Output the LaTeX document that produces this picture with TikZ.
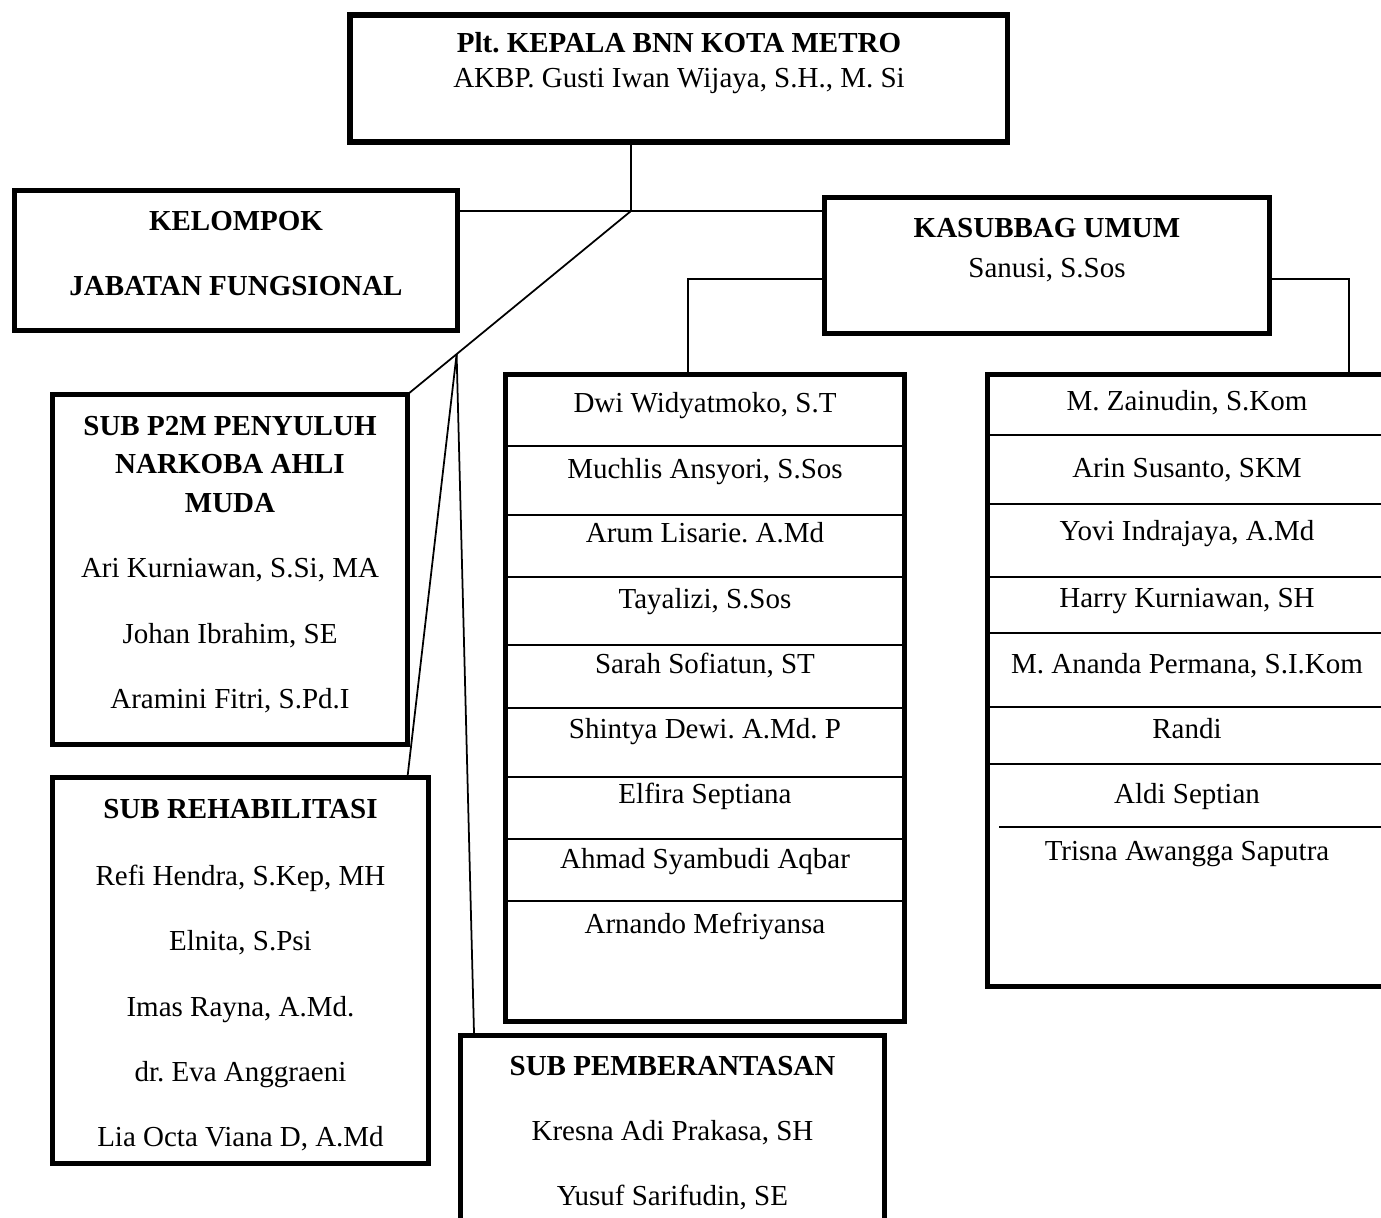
\documentclass[tikz,border=0pt]{standalone}
\usepackage{fontspec}
\setmainfont{Liberation Serif}
\usetikzlibrary{calc}
\frenchspacing

\begin{document}
\begin{tikzpicture}[x=0.02cm,y=-0.02cm,line width=1pt,
	box/.style={draw,line width=2.9pt,anchor=north west,inner sep=0pt,outer sep=0pt},
	txt/.style={anchor=base,inner sep=0pt,font=\fontsize{16.5}{20}\selectfont},
	head/.style={txt,font=\fontsize{16.5}{20}\selectfont\bfseries}]
			\useasboundingbox (0,0) rectangle (1381,1217);
			\clip (0,0) rectangle (1381,1217);
			% boxes
			\node[box,minimum width=13.16cm,minimum height=2.54cm] (kepala) at (350,15) {};
			\node[box,minimum width=8.86cm,minimum height=2.8cm] (kelompok) at (14.5,190.5) {};
			\node[box,minimum width=8.9cm,minimum height=2.72cm] (kasubbag) at (824.5,197.5) {};
			\node[box,minimum width=7.1cm,minimum height=7cm] (p2m) at (52.5,394.5) {};
			\node[box,minimum width=7.52cm,minimum height=7.72cm] (rehab) at (52.5,777.5) {};
			\node[box,minimum width=8.48cm,minimum height=5.2cm] (berantas) at (460.5,1035.5) {};
			\node[box,minimum width=7.98cm,minimum height=12.94cm] (staffa) at (505.5,374.5) {};
			\node[box,minimum width=8cm,minimum height=12.24cm] (staffb) at (987.5,374.5) {};
			% connectors
			\coordinate (j) at (631,211);
			\draw (kepala.south -| j) -- (j);
			\draw (kelompok.east |- j) -- (kasubbag.west |- j);
			\draw (j) -- (p2m.north east);
			\coordinate (k) at ($(j)!0.78!(p2m.north east)$);
			\draw (k) -- (p2m.east |- rehab.north);
			\draw (k) -- ($(berantas.north west)!0.032!(berantas.north east)$);
			\coordinate (ka) at (688,279);
			\draw (kasubbag.west |- ka) -- (ka) -- (ka |- staffa.north);
			\coordinate (kb) at (1349,279);
			\draw (kasubbag.east |- kb) -- (kb) -- (kb |- staffb.north);
			% top
			\node[head] (kepalaT) at (679,52) {Plt. KEPALA BNN KOTA METRO};
			\node[txt] (kepalaN) at (679,87) {AKBP. Gusti Iwan Wijaya, S.H., M. Si};
			\node[head] (kelompokT) at (236,230) {KELOMPOK};
			\node[head] (kelompokU) at (236,295) {JABATAN FUNGSIONAL};
			\node[head] (kasubbagT) at (1047,237) {KASUBBAG UMUM};
			\node[txt] (kasubbagN) at (1047,277) {Sanusi, S.Sos};
			% sub
			\foreach \y / \name in {435/SUB P2M PENYULUH, 473/NARKOBA AHLI, 512/MUDA}
				\node[head] (p2mT\y) at (230,\y) {\name};
			\foreach \y / \name in {577/{Ari Kurniawan, S.Si, MA}, 643/{Johan Ibrahim, SE},
				708/{Aramini Fitri, S.Pd.I}}
				\node[txt] (p2mN\y) at (230,\y) {\name};
			\node[head] (rehabT) at (240.5,818) {SUB REHABILITASI};
			\foreach \y / \name in {885/{Refi Hendra, S.Kep, MH}, 950/{Elnita, S.Psi},
				1016/{Imas Rayna, A.Md.}, 1081/{dr. Eva Anggraeni}, 1146/{Lia Octa Viana D, A.Md}}
				\node[txt] (rehabN\y) at (240.5,\y) {\name};
			\node[head] (berantasT) at (672.5,1075) {SUB PEMBERANTASAN};
			\foreach \y / \name in {1140/{Kresna Adi Prakasa, SH}, 1205/{Yusuf Sarifudin, SE}}
				\node[txt] (berantasN\y) at (672.5,\y) {\name};
			% staff lists
			\foreach \y in {446,515,577,645,708,777,839,901}
				\draw[line width=1.1pt] (505.5,\y) -- (904.5,\y);
			\foreach \y / \name in {412/{Dwi Widyatmoko, S.T}, 478/{Muchlis Ansyori, S.Sos},
				542/{Arum Lisarie. A.Md}, 608/{Tayalizi, S.Sos}, 673/{Sarah Sofiatun, ST},
				738/{Shintya Dewi. A.Md. P}, 803/{Elfira Septiana}, 868/{Ahmad Syambudi Aqbar},
				933/{Arnando Mefriyansa}}
				\node[txt] (staffa\y) at (705,\y) {\name};
			\foreach \y in {435,504,577,633,707,764}
				\draw[line width=1.1pt] (987.5,\y) -- (1387.5,\y);
			\draw[line width=1.1pt] (999,827) -- (1387.5,827);
			\foreach \y / \name in {410/{M. Zainudin, S.Kom}, 477/{Arin Susanto, SKM},
				540/{Yovi Indrajaya, A.Md}, 607/{Harry Kurniawan, SH},
				673/{M. Ananda Permana, S.I.Kom}, 738/Randi, 803/{Aldi Septian},
				860/{Trisna Awangga Saputra}}
				\node[txt] (staffb\y) at (1187,\y) {\name};
			\end{tikzpicture}
\end{document}
